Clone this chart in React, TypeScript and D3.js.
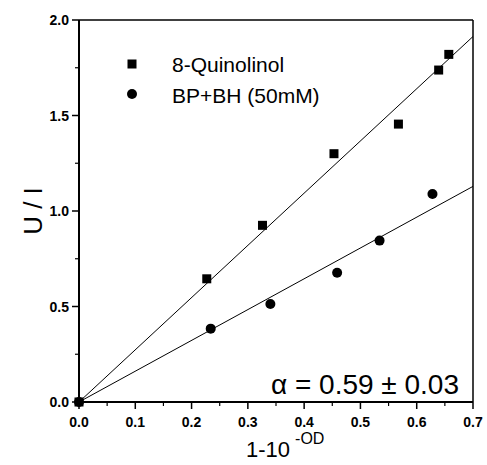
import React from "react";
import * as d3 from "d3";

const quinX = [0, 0.227, 0.326, 0.453, 0.5675, 0.639, 0.657];
const quinY = [0, 0.645, 0.925, 1.3, 1.455, 1.738, 1.82];
const bpX = [0, 0.234, 0.34, 0.4586, 0.534, 0.628];
const bpY = [0, 0.384, 0.513, 0.677, 0.845, 1.089];
const xTicks = [0, 0.1, 0.2, 0.3, 0.4, 0.5, 0.6, 0.7];
const yTicks = [0, 0.5, 1.0, 1.5, 2.0];
const legendLabels = ["8-Quinolinol", "BP+BH (50mM)"];
const annotation = "\u03b1 = 0.59 \u00b1 0.03";

const W = 487, H = 465;
const FONT = "'Liberation Sans', Arial, Helvetica, sans-serif";

function slopeThroughOrigin(xs: number[], ys: number[]) {
  const sxy = d3.sum(xs, (x, i) => x * ys[i]);
  const sxx = d3.sum(xs, (x) => x * x);
  return sxy / sxx;
}

export default function App() {
  const x = d3.scaleLinear().domain([0, 0.7]).range([79, 473]);
  const y = d3.scaleLinear().domain([0, 2]).range([402, 20]);
  const xMinor = d3.range(0.05, 0.7, 0.1);
  const yMinor = d3.range(0.25, 2, 0.5);
  const kq = slopeThroughOrigin(quinX, quinY);
  const kb = slopeThroughOrigin(bpX, bpY);
  const line = d3.line<[number, number]>().x((d) => x(d[0])).y((d) => y(d[1]));
  const fitQ: [number, number][] = [[0, 0], [0.7, 0.7 * kq]];
  const fitB: [number, number][] = [[0, 0], [0.7, 0.7 * kb]];

  return (
    <svg width={W} height={H} style={{ position: "absolute", left: 0, top: 0, background: "#fff" }} fontFamily={FONT}>
      <rect x={0} y={0} width={W} height={H} fill="#fff" />
      {/* frame */}
      <line x1={x(0)} x2={x(0.7)} y1={y(2)} y2={y(2)} stroke="#000" strokeWidth={1.5} />
      <line x1={x(0.7)} x2={x(0.7)} y1={y(2)} y2={y(0)} stroke="#000" strokeWidth={1.5} />
      <line x1={x(0)} x2={x(0.7)} y1={y(0)} y2={y(0)} stroke="#000" strokeWidth={2} />
      <line x1={x(0)} x2={x(0)} y1={y(2)} y2={y(0)} stroke="#000" strokeWidth={2} />
      {/* x ticks */}
      {xTicks.map((t) => (
        <g key={"xt" + t}>
          <line x1={x(t)} x2={x(t)} y1={y(0)} y2={y(0) + 7} stroke="#000" strokeWidth={1.5} />
          <text x={x(t)} y={y(0) + 25} textAnchor="middle" fontSize={14} fontWeight="bold">{t.toFixed(1)}</text>
        </g>
      ))}
      {xMinor.map((t) => (
        <line key={"xm" + t} x1={x(t)} x2={x(t)} y1={y(0)} y2={y(0) + 4} stroke="#000" strokeWidth={1.2} />
      ))}
      {/* y ticks */}
      {yTicks.map((t) => (
        <g key={"yt" + t}>
          <line x1={x(0) - 7} x2={x(0)} y1={y(t)} y2={y(t)} stroke="#000" strokeWidth={1.5} />
          <text x={x(0) - 10} y={y(t) + 5} textAnchor="end" fontSize={14} fontWeight="bold">{t.toFixed(1)}</text>
        </g>
      ))}
      {yMinor.map((t) => (
        <line key={"ym" + t} x1={x(0) - 4} x2={x(0)} y1={y(t)} y2={y(t)} stroke="#000" strokeWidth={1.2} />
      ))}
      {/* fit lines */}
      <path d={line(fitQ) || ""} stroke="#000" strokeWidth={1} fill="none" />
      <path d={line(fitB) || ""} stroke="#000" strokeWidth={1} fill="none" />
      {/* points */}
      {quinX.map((v, i) => (
        <rect key={"q" + i} x={x(v) - 4.5} y={y(quinY[i]) - 4.5} width={9} height={9} fill="#000" />
      ))}
      {bpX.map((v, i) => (
        <circle key={"b" + i} cx={x(v)} cy={y(bpY[i])} r={5} fill="#000" />
      ))}
      {/* legend */}
      <rect x={132 - 4.5} y={64 - 4.5} width={9} height={9} fill="#000" />
      <text x={172} y={72} fontSize={21}>{legendLabels[0]}</text>
      <circle cx={132} cy={94} r={5} fill="#000" />
      <text x={172} y={103} fontSize={21}>{legendLabels[1]}</text>
      {/* annotation */}
      <text x={271} y={394} fontSize={28}>{annotation}</text>
      {/* axis titles */}
      <text x={246} y={457} fontSize={22}>1-10<tspan dy={-13} fontSize={16} dx={5}>-OD</tspan></text>
      <text transform={`translate(42,${y(1)}) rotate(-90)`} textAnchor="middle" fontSize={26}>U / I</text>
    </svg>
  );
}
